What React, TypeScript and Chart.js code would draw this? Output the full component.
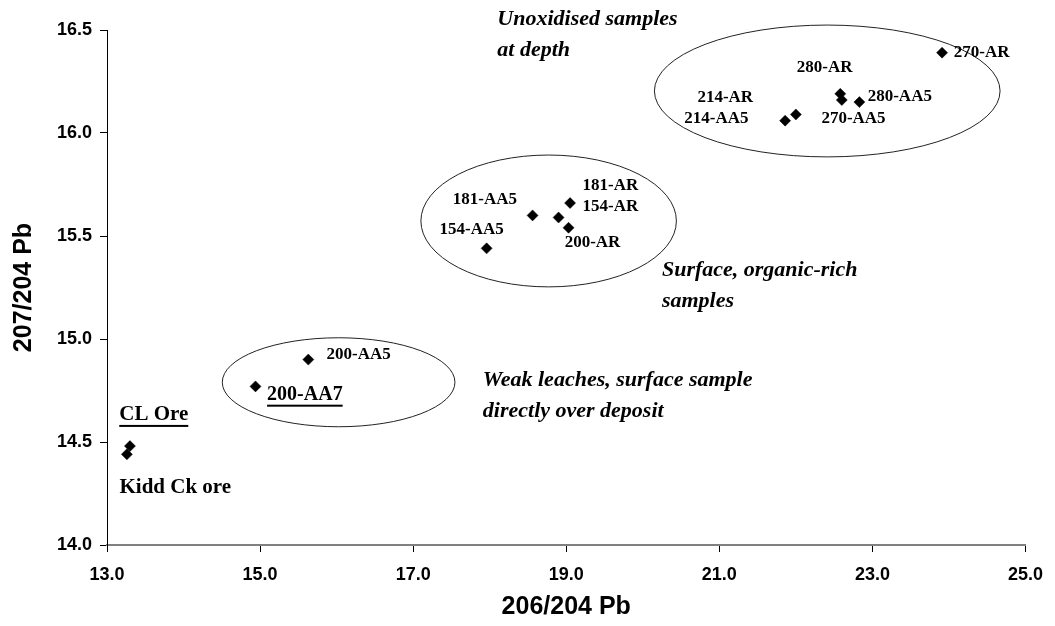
import React, { useEffect, useRef } from 'react';
import { Chart, registerables } from 'chart.js';

Chart.register(...registerables);

// ---- data ----
const sampleLabels = ['CL Ore', 'Kidd Ck ore', '200-AA7', '200-AA5', '154-AA5', '181-AA5', '181-AR', '154-AR', '200-AR', '214-AA5', '214-AR', '280-AR', '270-AA5', '280-AA5', '270-AR'];
const pb206 = [13.30, 13.26, 14.94, 15.63, 17.96, 18.56, 18.90, 19.05, 19.03, 21.86, 22.00, 22.58, 22.60, 22.83, 23.91];
const pb207 = [14.48, 14.44, 14.77, 14.90, 15.44, 15.60, 15.59, 15.66, 15.54, 16.06, 16.09, 16.19, 16.16, 16.15, 16.39];
const xTickValues = [13, 15, 17, 19, 21, 23, 25];
const yTickValues = [14.0, 14.5, 15.0, 15.5, 16.0, 16.5];
const xTitle = '206/204 Pb';
const yTitle = '207/204 Pb';
const groupNotes = [
  ['Unoxidised samples', 'at depth'],
  ['Surface, organic-rich', 'samples'],
  ['Weak leaches, surface sample', 'directly over deposit'],
];

// ---- annotation layout (pixel offsets from each point / data-space placement) ----
const labelLayout: { dx: number; dy: number; align: CanvasTextAlign; size: number; underline?: boolean }[] = [
  { dx: -10.7, dy: -31.7, align: 'left', size: 21, underline: true },
  { dx: -7.4, dy: 33.3, align: 'left', size: 21 },
  { dx: 11.6, dy: 8.3, align: 'left', size: 20, underline: true },
  { dx: 18.3, dy: -5, align: 'left', size: 17 },
  { dx: -15, dy: -18.4, align: 'center', size: 17 },
  { dx: -47.7, dy: -15.3, align: 'center', size: 17 },
  { dx: 24, dy: -32.3, align: 'left', size: 17 },
  { dx: 12.4, dy: 3.4, align: 'left', size: 17 },
  { dx: 24, dy: 15, align: 'center', size: 17 },
  { dx: -68.7, dy: -1.7, align: 'center', size: 17 },
  { dx: -70.6, dy: -17.3, align: 'center', size: 17 },
  { dx: -15.6, dy: -26.6, align: 'center', size: 17 },
  { dx: 11.7, dy: 19, align: 'center', size: 17 },
  { dx: 8.3, dy: -5.6, align: 'left', size: 17 },
  { dx: 11.7, dy: 0, align: 'left', size: 17 },
];
const notePlacement = [
  { x: 18.10, y: 16.55 },
  { x: 20.25, y: 15.335 },
  { x: 17.91, y: 14.80 },
];
const ellipses = [
  { cx: 22.41, cy: 16.204, rx: 2.258, ry: 0.32 },
  { cx: 18.77, cy: 15.573, rx: 1.669, ry: 0.32 },
  { cx: 16.026, cy: 14.79, rx: 1.52, ry: 0.216 },
];

const ellipsePlugin = {
  id: 'groupEllipses',
  beforeDatasetsDraw(chart: any) {
    const { ctx, scales } = chart;
    const x = scales.x, y = scales.y;
    ctx.save();
    ctx.strokeStyle = '#222';
    ctx.lineWidth = 1;
    ellipses.forEach((e) => {
      const cx = x.getPixelForValue(e.cx);
      const cy = y.getPixelForValue(e.cy);
      const rx = Math.abs(x.getPixelForValue(e.cx + e.rx) - cx);
      const ry = Math.abs(y.getPixelForValue(e.cy + e.ry) - cy);
      ctx.beginPath();
      ctx.ellipse(cx, cy, rx, ry, 0, 0, Math.PI * 2);
      ctx.stroke();
    });
    ctx.restore();
  },
};

const labelPlugin = {
  id: 'pointLabels',
  afterDatasetsDraw(chart: any) {
    const { ctx, scales } = chart;
    const x = scales.x, y = scales.y;
    ctx.save();
    ctx.fillStyle = '#000';
    ctx.textBaseline = 'middle';
    sampleLabels.forEach((lab, i) => {
      const L = labelLayout[i];
      const px = x.getPixelForValue(pb206[i]) + L.dx;
      const py = y.getPixelForValue(pb207[i]) + L.dy;
      ctx.font = `bold ${L.size}px "Liberation Serif", "Times New Roman", serif`;
      ctx.textAlign = L.align;
      ctx.fillText(lab, px, py);
      if (L.underline) {
        const w = ctx.measureText(lab).width;
        const left = L.align === 'left' ? px : px - w / 2;
        ctx.fillRect(left, py + L.size * 0.5, w, 2);
      }
    });
    ctx.font = 'italic bold 22px "Liberation Serif", "Times New Roman", serif';
    ctx.textAlign = 'left';
    groupNotes.forEach((lines, i) => {
      const p = notePlacement[i];
      const px = x.getPixelForValue(p.x);
      const py = y.getPixelForValue(p.y);
      lines.forEach((t, j) => ctx.fillText(t, px, py + j * 31));
    });
    ctx.restore();
  },
};

export default function App() {
  const ref = useRef<HTMLCanvasElement | null>(null);
  useEffect(() => {
    if (!ref.current) return;
    const tickFont = { family: '"Liberation Sans", Arial, sans-serif', size: 18, weight: 'bold' as const };
    const titleFont = { family: '"Liberation Sans", Arial, sans-serif', size: 25, weight: 'bold' as const };
    const chart = new Chart(ref.current, {
      type: 'scatter',
      data: {
        datasets: [
          {
            label: 'samples',
            data: pb206.map((v, i) => ({ x: v, y: pb207[i] })),
            pointStyle: 'rectRot',
            pointRadius: 5.5,
            borderWidth: 0.5,
            backgroundColor: '#000',
            borderColor: '#000',
          },
        ],
      },
      options: {
        responsive: false,
        devicePixelRatio: 1,
        animation: false,
        layout: { padding: { left: 0, right: 21, top: 30, bottom: 0 } },
        plugins: { legend: { display: false }, tooltip: { enabled: false } },
        scales: {
          x: {
            type: 'linear',
            min: 13,
            max: 25,
            afterBuildTicks: (s: any) => { s.ticks = xTickValues.map((v) => ({ value: v })); },
            afterFit: (s: any) => { s.height = 81; },
            ticks: { font: tickFont, color: '#000', padding: 12, callback: (v: any) => Number(v).toFixed(1), maxRotation: 0 },
            grid: { display: true, drawOnChartArea: false, drawTicks: true, tickLength: 7, tickColor: '#000' },
            border: { display: true, color: '#808080', width: 2 },
            title: { display: true, text: xTitle, font: titleFont, color: '#000', padding: { top: 0, bottom: 4 } },
          },
          y: {
            type: 'linear',
            min: 14,
            max: 16.5,
            afterBuildTicks: (s: any) => { s.ticks = yTickValues.map((v) => ({ value: v })); },
            afterFit: (s: any) => { s.width = 107; },
            ticks: { font: tickFont, color: '#000', padding: 8, callback: (v: any) => Number(v).toFixed(1) },
            grid: { display: true, drawOnChartArea: false, drawTicks: true, tickLength: 7, tickColor: '#000' },
            border: { display: true, color: '#000', width: 1 },
            title: { display: true, text: yTitle, font: titleFont, color: '#000', padding: { top: 9, bottom: 0 } },
          },
        },
      },
      plugins: [ellipsePlugin, labelPlugin],
    });
    return () => chart.destroy();
  }, []);
  return (
    <div style={{ position: 'fixed', left: 0, top: 0, width: 1055, height: 626, background: '#fff' }}>
      <canvas ref={ref} width={1055} height={626} style={{ display: 'block' }} />
    </div>
  );
}
